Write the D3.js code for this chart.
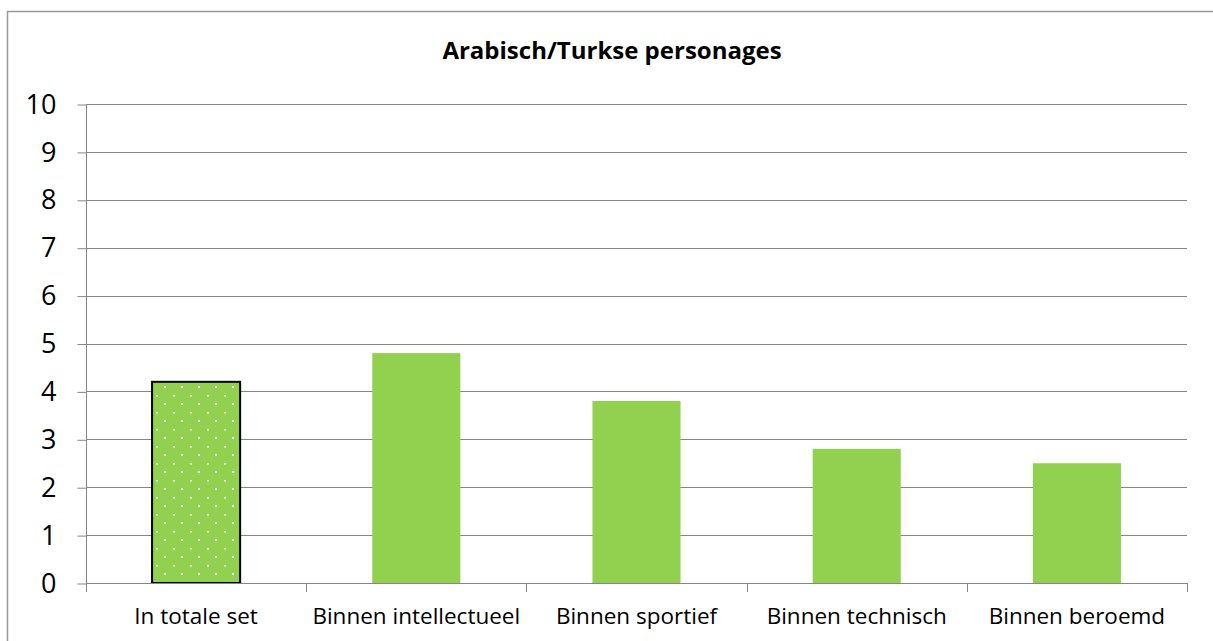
<!DOCTYPE html>
<html>
<head>
<meta charset="utf-8">
<script src="https://cdn.jsdelivr.net/npm/d3@7"></script>
<style>
  body { margin: 0; background: #fff; }
  svg { display: block; font-family: "Open Sans", "Noto Sans", sans-serif; }
</style>
</head>
<body>
<svg id="chart" width="1213" height="641"></svg>
<script>
// chart data
var categories = ["In totale set", "Binnen intellectueel", "Binnen sportief", "Binnen technisch", "Binnen beroemd"];
var values = [4.2, 4.8, 3.8, 2.8, 2.5];
var yTicks = [0, 1, 2, 3, 4, 5, 6, 7, 8, 9, 10];
var title = "Arabisch/Turkse personages";

(function(){
    var svg = d3.select("#chart");
    var left = 86, right = 1187, top = 104, bottom = 583;

    //dotted fill for the first bar
    var defs = svg.append("defs");
    var pat = defs.append("pattern")
        .attr("id", "dots")
        .attr("patternUnits", "userSpaceOnUse")
        .attr("width", 17).attr("height", 17)
        .attr("x", 156).attr("y", 378);
    pat.append("rect").attr("width", 17).attr("height", 17).attr("fill", "#92D050");
    pat.append("rect").attr("x", 8).attr("y", 8).attr("width", 2).attr("height", 2).attr("fill", "#fff");
    pat.append("rect").attr("x", 0).attr("y", 0).attr("width", 2).attr("height", 1.5).attr("fill", "#fff");

    //outer frame (only left/top visible)
    svg.append("path")
        .attr("d", "M7.5,641 V11.5 H1213")
        .attr("fill", "none")
        .attr("stroke", "#999")
        .attr("stroke-width", 1.5);

    var x = d3.scaleBand()
        .domain(categories)
        .range([left, right])
        .paddingInner(0.6).paddingOuter(0.3);

    var y = d3.scaleLinear()
        .domain([0, 10])
        .range([bottom, top]);

    //gridlines
    svg.append("g")
        .selectAll("line")
        .data(yTicks.filter(function(d){ return d > 0; }))
        .join("line")
        .attr("x1", left).attr("x2", right)
        .attr("y1", function(d){ return Math.round(y(d)) + 0.5; })
        .attr("y2", function(d){ return Math.round(y(d)) + 0.5; })
        .attr("stroke", "#868686");

    //y axis
    var yAxis = svg.append("g")
        .attr("transform", "translate(" + (left + 0.5) + ",0.5)")
        .call(d3.axisLeft(y).tickValues(yTicks).tickSize(9).tickPadding(21));
    yAxis.select(".domain").attr("stroke", "#868686").attr("d", "M0," + Math.round(top) + "V" + Math.round(bottom));
    yAxis.selectAll(".tick line").attr("stroke", "#868686");
    yAxis.selectAll(".tick text")
        .attr("font-size", 27)
        .attr("fill", "#000")
        .attr("font-family", "Open Sans, sans-serif");

    //bars
    svg.append("g")
        .selectAll("rect")
        .data(values)
        .join("rect")
        .attr("x", function(d, i){ return x(categories[i]); })
        .attr("width", x.bandwidth())
        .attr("y", function(d){ return y(d); })
        .attr("height", function(d){ return y(0) - y(d); })
        .attr("fill", function(d, i){ return i === 0 ? "url(#dots)" : "#92D050"; })
        .attr("stroke", function(d, i){ return i === 0 ? "#000" : "none"; })
        .attr("stroke-width", 2);

    //x axis with boundary ticks
    var xAxis = svg.append("g");
    xAxis.append("line")
        .attr("x1", left).attr("x2", right)
        .attr("y1", Math.round(bottom) + 0.5).attr("y2", Math.round(bottom) + 0.5)
        .attr("stroke", "#868686");
    xAxis.selectAll(".bound")
        .data(d3.range(categories.length + 1))
        .join("line")
        .attr("class", "bound")
        .attr("x1", function(i){ return Math.round(left + i * (right - left) / categories.length) + 0.5; })
        .attr("x2", function(i){ return Math.round(left + i * (right - left) / categories.length) + 0.5; })
        .attr("y1", bottom).attr("y2", bottom + 9)
        .attr("stroke", "#868686");
    xAxis.selectAll("text")
        .data(categories)
        .join("text")
        .attr("x", function(d){ return x(d) + x.bandwidth() / 2; })
        .attr("y", 624)
        .attr("text-anchor", "middle")
        .attr("font-size", 22.5)
        .attr("fill", "#000")
        .text(function(d){ return d; });

    //title
    svg.append("text")
        .attr("x", 612).attr("y", 59)
        .attr("text-anchor", "middle")
        .attr("font-size", 24)
        .attr("font-weight", "bold")
        .attr("fill", "#000")
        .text(title);
})();
</script>
</body>
</html>
